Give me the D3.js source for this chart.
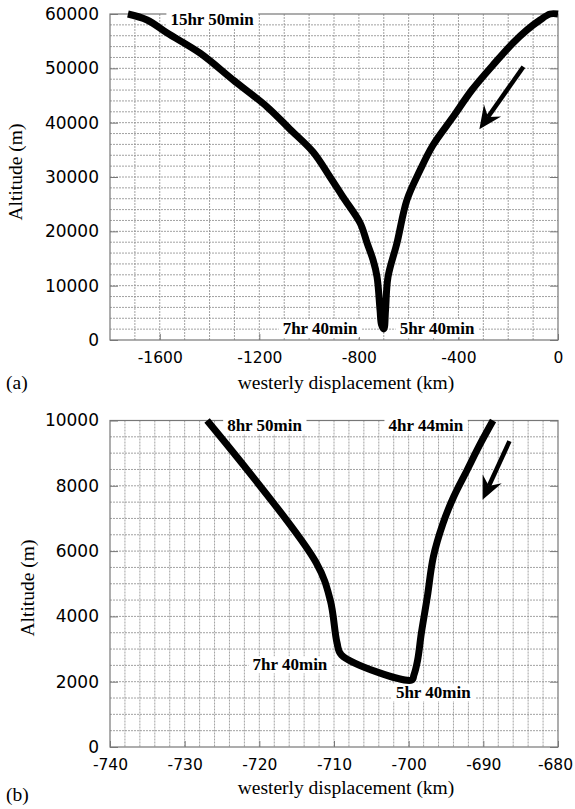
<!DOCTYPE html>
<html><head><meta charset="utf-8">
<script src="https://cdn.jsdelivr.net/npm/d3@7"></script>
<style>
html,body{margin:0;padding:0;background:#fff;}
svg{display:block;}
.ylab{font-family:"DejaVu Sans",sans-serif;font-size:17px;fill:#000;}
.xlab{font-family:"DejaVu Sans",sans-serif;font-size:15.5px;fill:#000;}
.title{font-family:"Liberation Serif","Times New Roman",serif;font-size:19.5px;fill:#000;}
.ann{font-family:"Liberation Serif","Times New Roman",serif;font-size:17px;font-weight:bold;fill:#000;}
</style></head>
<body>
<svg id="chart" width="575" height="809"></svg>
<script>
// ---- Panel (a) data ----
const trajAX = [0, -32, -72, -125, -181, -261, -346, -422, -502, -554, -607, -647, -683, -693, -699.6, -709, -715, -727, -743, -767, -795, -864, -916, -984, -1077, -1168, -1305, -1438, -1570, -1651, -1728];
const trajAAlt = [60000, 60000, 58900, 57060, 54660, 50610, 46010, 41040, 35890, 31290, 25770, 17850, 11600, 5520, 2050, 2820, 5520, 11600, 14720, 17850, 21530, 26320, 30000, 34600, 38800, 42880, 47860, 52800, 56500, 58900, 60000];
const xTicksA = [-1600, -1200, -800, -400, 0];
const yTicksA = [0, 10000, 20000, 30000, 40000, 50000, 60000];
const arrowAX = [-139, -316];
const arrowAAlt = [50300, 38780];
const annA = [
  {text: "15hr 50min", x: -1390, alt: 59000},
  {text: "7hr 40min", x: -956, alt: 2200},
  {text: "5hr 40min", x: -486, alt: 2200}
];
// ---- Panel (b) data ----
const trajBX = [-688.7, -690.4, -692.2, -694.0, -695.4, -696.7, -697.5, -698.3, -698.8, -699.3, -699.6, -709.0, -709.6, -710.5, -712.4, -727.0];
const trajBAlt = [10000, 9290, 8470, 7650, 6850, 5820, 4600, 3490, 2660, 2200, 2050, 2820, 3200, 4500, 5650, 10000];
const xTicksB = [-740, -730, -720, -710, -700, -690, -680];
const yTicksB = [0, 2000, 4000, 6000, 8000, 10000];
const arrowBX = [-686.5, -690.1];
const arrowBAlt = [9367, 7575];
const annB = [
  {text: "8hr 50min", x: -719.3, alt: 9850},
  {text: "4hr 44min", x: -697.7, alt: 9850},
  {text: "7hr 40min", x: -715.9, alt: 2530},
  {text: "5hr 40min", x: -696.7, alt: 1680}
];

const svg = d3.select("#chart");

function panel(cfg) {
  const g = svg.append("g");
  const x = d3.scaleLinear().domain(cfg.xDomain).range([110, 558]);
  const y = d3.scaleLinear().domain(cfg.yDomain).range([cfg.bottom, cfg.top]);
  // grid
  const grid = g.append("g").attr("stroke", "#8a8a8a").attr("stroke-width", 0.8).attr("stroke-dasharray", "2,1");
  d3.range(cfg.xDomain[0] + cfg.xGrid, cfg.xDomain[1] - 1e-9, cfg.xGrid).forEach(v => {
    grid.append("line").attr("x1", x(v)).attr("x2", x(v)).attr("y1", cfg.top).attr("y2", cfg.bottom);
  });
  d3.range(cfg.yDomain[0] + cfg.yGrid, cfg.yDomain[1] - 1e-9, cfg.yGrid).forEach(v => {
    grid.append("line").attr("x1", 110).attr("x2", 558).attr("y1", y(v)).attr("y2", y(v));
  });
  // frame
  g.append("rect").attr("x", 110).attr("y", cfg.top).attr("width", 448).attr("height", cfg.bottom - cfg.top)
    .attr("fill", "none").attr("stroke", "#777").attr("stroke-width", 1.2);
  // axes (inward ticks)
  const fmt = d => String(d);
  const ya = g.append("g").attr("transform", "translate(110,0)")
    .call(d3.axisLeft(y).tickValues(cfg.yTicks).tickSize(-8).tickFormat(fmt));
  const yr = g.append("g").attr("transform", "translate(558,0)")
    .call(d3.axisRight(y).tickValues(cfg.yTicks).tickSize(-8).tickFormat(""));
  const xa = g.append("g").attr("transform", `translate(0,${cfg.bottom})`)
    .call(d3.axisBottom(x).tickValues(cfg.xTicks).tickSize(-6).tickPadding(cfg.xPad).tickFormat(fmt));
  [ya, yr, xa].forEach(a => {
    a.select(".domain").remove();
    a.selectAll(".tick line").attr("stroke", "#777").attr("stroke-width", 1);
    a.selectAll(".tick text").attr("font-family", null).attr("font-size", null).attr("fill", null);
  });
  ya.selectAll(".tick text").attr("class", "ylab").attr("x", -11);
  xa.selectAll(".tick text").attr("class", "xlab");
  xa.selectAll(".tick text").filter(d => d === cfg.xTicks[cfg.xTicks.length - 1]).attr("dx", cfg.lastDx);
  // annotations with white background
  cfg.ann.forEach(a => {
    const t = g.append("text").attr("class", "ann").attr("text-anchor", "middle")
      .attr("x", x(a.x)).attr("y", y(a.alt)).attr("dy", "0.35em").text(a.text);
    const b = t.node().getBBox();
    g.insert("rect", function(){ return t.node(); })
      .attr("x", b.x - 4).attr("y", b.y + 1).attr("width", b.width + 8).attr("height", b.height - 2).attr("fill", "#fff");
  });
  // trajectory
  const pts = cfg.trajX.map((v, i) => [v, cfg.trajAlt[i]]);
  g.append("path").datum(pts)
    .attr("d", d3.line().x(d => x(d[0])).y(d => y(d[1])).curve(d3.curveCatmullRom.alpha(0.5)))
    .attr("fill", "none").attr("stroke", "#000").attr("stroke-width", cfg.lw)
    .attr("stroke-linejoin", "round").attr("stroke-linecap", "butt");
  // arrow
  const x0 = x(cfg.arrowX[0]), y0 = y(cfg.arrowAlt[0]), x1 = x(cfg.arrowX[1]), y1 = y(cfg.arrowAlt[1]);
  const ang = Math.atan2(y1 - y0, x1 - x0);
  const L = 23, W = 10.5, N = 15;
  const ux = Math.cos(ang), uy = Math.sin(ang), px = -uy, py = ux;
  g.append("line").attr("x1", x0).attr("y1", y0).attr("x2", x1 - ux * N).attr("y2", y1 - uy * N)
    .attr("stroke", "#000").attr("stroke-width", 4.5);
  const head = [
    [x1, y1],
    [x1 - ux * L + px * W, y1 - uy * L + py * W],
    [x1 - ux * N, y1 - uy * N],
    [x1 - ux * L - px * W, y1 - uy * L - py * W]
  ];
  g.append("path").attr("d", "M" + head.map(p => p.join(",")).join("L") + "Z").attr("fill", "#000");
  // axis titles
  g.append("text").attr("class", "title").attr("text-anchor", "middle")
    .attr("transform", `translate(${cfg.yTitleX},${cfg.yTitleY}) rotate(-90)`).text("Altitude (m)");
  g.append("text").attr("class", "title").attr("text-anchor", "middle")
    .attr("x", 346).attr("y", cfg.xTitleY).text("westerly displacement (km)");
  g.append("text").attr("class", "title").attr("x", 6).attr("y", cfg.labelY).text(cfg.label);
}

panel({
  xDomain: [-1800, 0], yDomain: [0, 60000], top: 14, bottom: 340,
  xGrid: 100, yGrid: 2000, xTicks: xTicksA, yTicks: yTicksA, xPad: 12, lastDx: 0,
  trajX: trajAX, trajAlt: trajAAlt, arrowX: arrowAX, arrowAlt: arrowAAlt, ann: annA,
  lw: 7, yTitleX: 22, yTitleY: 172, xTitleY: 389, label: "(a)", labelY: 389
});
panel({
  xDomain: [-740, -680], yDomain: [0, 10000], top: 420.5, bottom: 747,
  xGrid: 2, yGrid: 500, xTicks: xTicksB, yTicks: yTicksB, xPad: 12, lastDx: -3,
  trajX: trajBX, trajAlt: trajBAlt, arrowX: arrowBX, arrowAlt: arrowBAlt, ann: annB,
  lw: 7, yTitleX: 34, yTitleY: 588, xTitleY: 794, label: "(b)", labelY: 801
});
</script>
</body></html>
